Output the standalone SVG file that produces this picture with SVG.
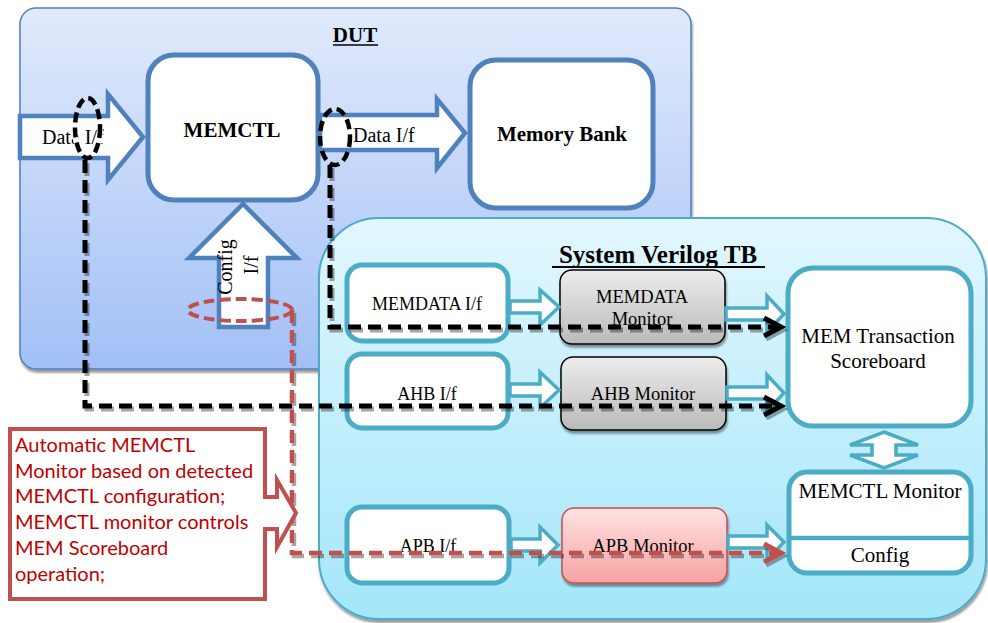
<svg xmlns="http://www.w3.org/2000/svg" width="988" height="623" viewBox="0 0 988 623">
<defs>
<linearGradient id="gDut" x1="0" y1="0" x2="0" y2="1"><stop offset="0" stop-color="#e1eafc"/><stop offset="1" stop-color="#a2c0f6"/></linearGradient>
<linearGradient id="gTb" x1="0" y1="0" x2="0" y2="1"><stop offset="0" stop-color="#e2f7fe"/><stop offset="1" stop-color="#a4e6fa"/></linearGradient>
<linearGradient id="gGray" x1="0" y1="0" x2="0" y2="1"><stop offset="0" stop-color="#ececec"/><stop offset="1" stop-color="#bababa"/></linearGradient>
<linearGradient id="gPink" x1="0" y1="0" x2="0" y2="1"><stop offset="0" stop-color="#ffe2e2"/><stop offset="1" stop-color="#f8a2a2"/></linearGradient>
<filter id="sh" x="-10%" y="-10%" width="120%" height="130%">
<feGaussianBlur in="SourceAlpha" stdDeviation="1.2"/><feOffset dx="1" dy="3" result="b"/>
<feFlood flood-color="#000" flood-opacity="0.4"/><feComposite in2="b" operator="in"/>
<feMerge><feMergeNode/><feMergeNode in="SourceGraphic"/></feMerge></filter>
<filter id="shl" x="-5%" y="-5%" width="110%" height="110%">
<feOffset in="SourceAlpha" dx="2" dy="3" result="b"/>
<feFlood flood-color="#000" flood-opacity="0.35"/><feComposite in2="b" operator="in"/>
<feMerge><feMergeNode/><feMergeNode in="SourceGraphic"/></feMerge></filter>
<clipPath id="shaftClip"><rect x="22" y="118" width="86" height="38"/></clipPath>
</defs>
<style>
.t{font-family:"Liberation Serif","Times New Roman",serif;fill:#000}
.b{font-weight:bold}
.bigArrow{fill:#fff;stroke:#4f81bd;stroke-width:4.5;stroke-linejoin:miter}
.tbBox{fill:#fff;stroke:#4bacc6;stroke-width:5}
.tbArrow{fill:#fff;stroke:#4bacc6;stroke-width:3.5}
.mon{stroke:#000;stroke-width:1.5}
.dashK{fill:none;stroke:#000;stroke-width:5;stroke-dasharray:13 7}
.dashR{fill:none;stroke:#c0504d;stroke-width:4.5;stroke-dasharray:13 7}
.headK{fill:none;stroke:#000;stroke-width:5}
.headR{fill:none;stroke:#c0504d;stroke-width:5}
.note{font-family:Lato,"Open Sans",sans-serif;font-size:20px;fill:#c00000}
</style>

<g id="dut">
<rect x="20" y="8" width="671" height="361" rx="16" fill="url(#gDut)" stroke="#4f81bd" stroke-width="1.5" filter="url(#sh)"/>
<text class="t b" x="355" y="42" font-size="21" text-anchor="middle">DUT</text>
<line x1="333" y1="45" x2="378" y2="45" stroke="#000" stroke-width="1.5"/>
</g>

<g id="memctl">
<rect x="148" y="55" width="170" height="145" rx="26" fill="#fff" stroke="#4f81bd" stroke-width="5"/>
<text class="t b" x="232" y="137" font-size="21" text-anchor="middle">MEMCTL</text>
</g>

<g id="memory-bank">
<rect x="470" y="60" width="183" height="148" rx="26" fill="#fff" stroke="#4f81bd" stroke-width="5"/>
<text class="t b" x="562" y="141" font-size="21" text-anchor="middle">Memory Bank</text>
</g>

<g id="dut-interfaces">
<polygon class="bigArrow" points="20,116 108,116 108,94 143,137 108,180 108,158 20,158"/>
<text class="t" x="42" y="144" font-size="20">Data I/f</text>
<polygon class="bigArrow" points="320,115 437,115 437,99 465,133 437,168 437,150 320,150"/>
<text class="t" x="353" y="142" font-size="20">Data I/f</text>
<polygon class="bigArrow" points="219,327 219,258 189,258 243,204 297,258 268,258 268,327"/>
<text class="t" font-size="20" text-anchor="middle" transform="translate(232,267) rotate(-90)">Config</text>
<text class="t" font-size="20" text-anchor="middle" transform="translate(258,265) rotate(-90)">I/f</text>
</g>

<g id="tb">
<rect x="319" y="218" width="667" height="401" rx="60" fill="url(#gTb)" stroke="#4bacc6" stroke-width="2" filter="url(#sh)"/>
<text class="t b" x="658" y="263" font-size="25" text-anchor="middle">System Verilog TB</text>
<line x1="552" y1="267" x2="765" y2="267" stroke="#000" stroke-width="2"/>
</g>

<g id="memdata-if">
<rect class="tbBox" x="347" y="265" width="161" height="76" rx="15"/>
<text class="t" x="427" y="310" font-size="18" text-anchor="middle">MEMDATA I/f</text>
</g>
<g id="ahb-if">
<rect class="tbBox" x="347" y="354" width="161" height="74" rx="15"/>
<text class="t" x="427" y="400" font-size="18" text-anchor="middle">AHB I/f</text>
</g>
<g id="apb-if">
<rect class="tbBox" x="347" y="507" width="162" height="76" rx="15"/>
<text class="t" x="428" y="552" font-size="18" text-anchor="middle">APB I/f</text>
</g>

<g id="memdata-monitor">
<rect class="mon" x="560" y="270" width="165" height="74" rx="12" fill="url(#gGray)" filter="url(#sh)"/>
<text class="t" x="642" y="303" font-size="18.5" text-anchor="middle">MEMDATA</text>
<text class="t" x="642" y="325" font-size="18.5" text-anchor="middle">Monitor</text>
</g>
<g id="ahb-monitor">
<rect class="mon" x="561" y="357" width="165" height="73" rx="12" fill="url(#gGray)" filter="url(#sh)"/>
<text class="t" x="643" y="400" font-size="18.5" text-anchor="middle">AHB Monitor</text>
</g>
<g id="apb-monitor">
<rect x="562" y="508" width="165" height="75" rx="12" fill="url(#gPink)" stroke="#c0504d" stroke-width="1.5" filter="url(#sh)"/>
<text class="t" x="643" y="552" font-size="18.5" text-anchor="middle">APB Monitor</text>
</g>

<g id="scoreboard">
<rect class="tbBox" x="788" y="268" width="183" height="158" rx="25"/>
<text class="t" x="878" y="343" font-size="21" text-anchor="middle">MEM Transaction</text>
<text class="t" x="878" y="368" font-size="21" text-anchor="middle">Scoreboard</text>
</g>

<g id="memctl-monitor">
<rect class="tbBox" x="789" y="472" width="182" height="101" rx="18"/>
<line x1="789" y1="538" x2="971" y2="538" stroke="#4bacc6" stroke-width="4.5"/>
<text class="t" x="880" y="498" font-size="21" text-anchor="middle">MEMCTL Monitor</text>
<text class="t" x="880" y="562" font-size="21" text-anchor="middle">Config</text>
</g>

<g id="connectors">
<polygon class="tbArrow" points="510,301 540,301 540,290 559,307 540,325 540,313 510,313"/>
<polygon class="tbArrow" points="510,384 540,384 540,372 559,390 540,408 540,396 510,396"/>
<polygon class="tbArrow" points="511,539 540,539 540,527 558,545 540,563 540,551 511,551"/>
<polygon class="tbArrow" points="726,308 767,308 767,296 784,314 767,332 767,320 726,320"/>
<polygon class="tbArrow" points="727,387 767,387 767,375 784,393 767,411 767,399 727,399"/>
<polygon class="tbArrow" points="728,536 767,536 767,525 784,542 767,560 767,548 728,548"/>
<polygon class="tbArrow" points="884,432 918,445 896,445 896,455 918,455 884,468 850,455 872,455 872,445 850,445"/>

<g filter="url(#shl)">
<path class="dashK" d="M85,160 V406 H778"/>
<polyline class="headK" points="764,397 781,406 764,415"/>
<path class="dashK" d="M330,165 V327 H778"/>
<polyline class="headK" points="764,318 781,327 764,336"/>
<path class="dashR" d="M292,310 V553 H778"/>
<polyline class="headR" points="764,544 781,553 764,562"/>
</g>
</g>

<g id="probes">
<ellipse cx="87.5" cy="128" rx="12.5" ry="30" fill="none" stroke="#fff" stroke-width="6" clip-path="url(#shaftClip)"/>
<ellipse cx="87.5" cy="128" rx="12.5" ry="30" fill="none" stroke="#000" stroke-width="4.5" stroke-dasharray="10 5"/>
<ellipse cx="335" cy="137" rx="15" ry="28" fill="none" stroke="#000" stroke-width="4.5" stroke-dasharray="10 5"/>
<ellipse cx="240" cy="310" rx="52" ry="11" fill="none" stroke="#c0504d" stroke-width="4" stroke-dasharray="11 5"/>
</g>

<g id="callout">
<path d="M10,429 H265 V497 H277 V480 L296,513 L277,547 V529 H265 V599 H10 Z" fill="#fff" stroke="#c0504d" stroke-width="4"/>
<text class="note" x="15" y="452">Automatic MEMCTL</text>
<text class="note" x="15" y="477.5">Monitor based on detected</text>
<text class="note" x="15" y="503">MEMCTL configuration;</text>
<text class="note" x="15" y="529">MEMCTL monitor controls</text>
<text class="note" x="15" y="555">MEM Scoreboard</text>
<text class="note" x="15" y="581">operation;</text>
</g>
</svg>
